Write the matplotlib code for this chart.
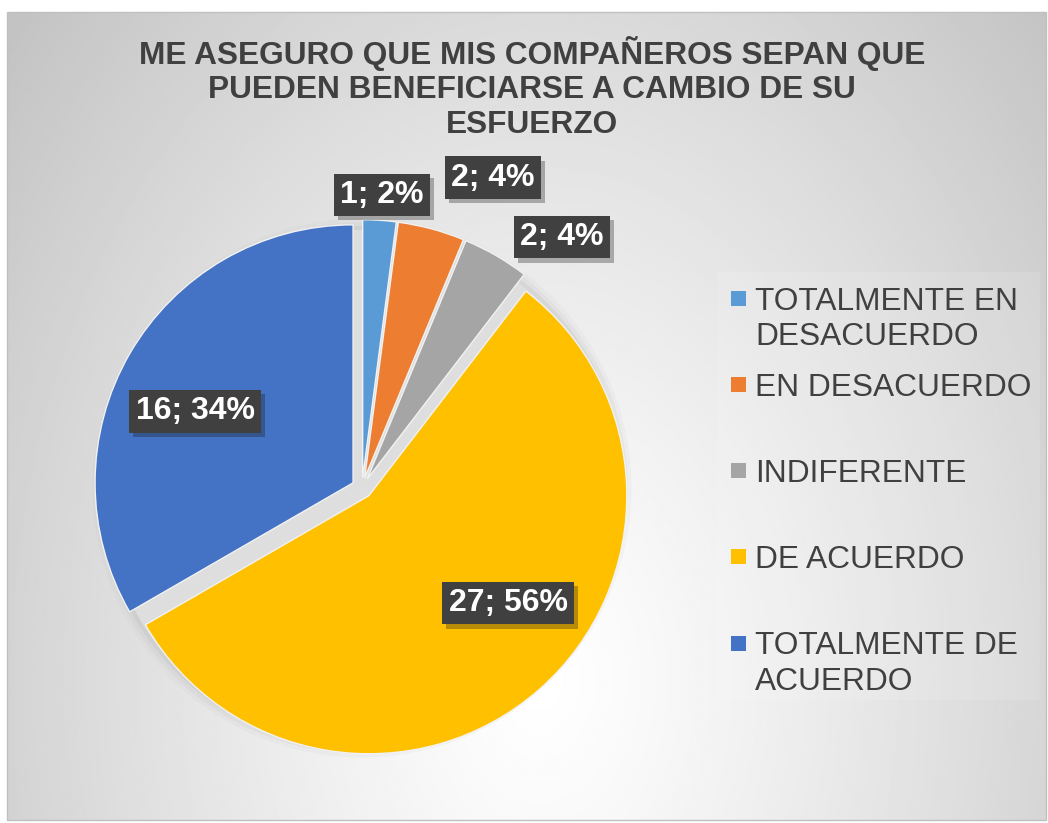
import numpy as np
import matplotlib.pyplot as plt
from matplotlib.patches import Rectangle, Circle
import matplotlib.patheffects as pe

plt.rcParams['font.family'] = ['Liberation Sans', 'DejaVu Sans']

title = "ME ASEGURO QUE MIS COMPAÑEROS SEPAN QUE\nPUEDEN BENEFICIARSE A CAMBIO DE SU\nESFUERZO"
categories = ["TOTALMENTE EN\nDESACUERDO", "EN DESACUERDO", "INDIFERENTE",
              "DE ACUERDO", "TOTALMENTE DE\nACUERDO"]
counts = [1, 2, 2, 27, 16]
percents = [2, 4, 4, 56, 34]
colors = ["#5B9BD5", "#ED7D31", "#A5A5A5", "#FFC000", "#4472C4"]

# where the data labels sit (pie units, radius = 1)
label_xy = [(0.078, 1.136), (0.508, 1.202), (0.775, 0.973), (0.566, -0.446), (-0.647, 0.298)]

W, H = 1048, 823
fig = plt.figure(figsize=(W / 100, H / 100), dpi=100)

# chart area with radial gradient
bg = fig.add_axes([0, 0, 1, 1])
bg.set_xlim(0, W)
bg.set_ylim(H, 0)
bg.axis('off')
x0, y0, x1, y1 = 7, 12, 1046, 820
xx, yy = np.meshgrid(np.linspace(x0, x1, 400), np.linspace(y0, y1, 320))
d = np.sqrt(((xx - 540) / 560) ** 2 + ((yy - 680) / 800) ** 2)
shade = 1 - 0.18 * d ** 1.2
bg.imshow(shade, extent=(x0, x1, y1, y0), cmap='gray', vmin=0, vmax=1,
          aspect='auto', interpolation='bilinear')
bg.add_patch(Rectangle((x0, y0), x1 - x0, y1 - y0, fill=False, ec='#c0c0c0', lw=1))
bg.add_patch(Rectangle((717, 272), 323, 428, fc='white', ec='none', alpha=0.12))

# pie
cx, cy, R, half = 362, 488, 258, 300
ax = fig.add_axes([(cx - half) / W, (H - cy - half) / H, 2 * half / W, 2 * half / H])
for r, a in [(1.045, 0.08), (1.03, 0.12), (1.015, 0.2)]:
    ax.add_patch(Circle((0, 0), r, fc='#b0b0b0', ec='none', alpha=a, zorder=0))
ax.add_patch(Circle((0, 0), 1.0, fc='#dedede', ec='none', zorder=0))
wedges, _ = ax.pie(counts, colors=colors, startangle=90, counterclock=False,
                   explode=[0.04] * len(counts),
                   wedgeprops=dict(edgecolor='#f2f2f2', linewidth=1))
ax.set_xlim(-half / R, half / R)
ax.set_ylim(-half / R, half / R)
ax.axis('off')

for (lx, ly), n, p in zip(label_xy, counts, percents):
    t = ax.text(lx, ly, f"{n}; {p}%", ha='center', va='center', fontsize=23,
                fontweight='bold', color='white', zorder=5,
                bbox=dict(boxstyle='square,pad=0.2', fc='#404040', ec='none'))
    t.get_bbox_patch().set_path_effects([pe.SimplePatchShadow(offset=(3, -3), alpha=0.3),
                                         pe.Normal()])

# title
fig.text(532 / W, 1 - 88 / H, title, ha='center', va='center', fontsize=22.8,
         fontweight='bold', color='#404040', linespacing=1.2)

# legend
ytop, step, lstep = 298, 86.25, 35.5
for i, (lab, c) in enumerate(zip(categories, colors)):
    y = ytop + i * step
    bg.add_patch(Rectangle((731, y - 7.5), 15, 15, fc=c, ec='none'))
    for j, line in enumerate(lab.split("\n")):
        bg.text(755, y + j * lstep, line, ha='left', va='center_baseline',
                fontsize=22.8, color='#404040')

fig.savefig("out.png", dpi=100)
